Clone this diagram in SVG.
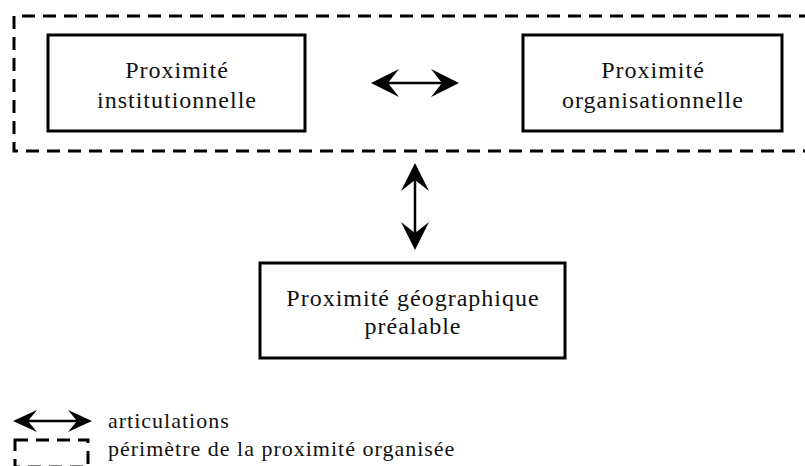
<svg xmlns="http://www.w3.org/2000/svg" width="805" height="466" viewBox="0 0 805 466">
  <style>
    .box { fill: #fff; stroke: #000; stroke-width: 3; }
    .dash { fill: none; stroke: #000; stroke-width: 3; stroke-dasharray: 13 8; }
    .shaft { stroke: #000; stroke-width: 2.5; fill: none; }
  </style>
  <defs>
    <!-- swept arrowhead pointing left, tip at origin -->
    <path id="headL" d="M0 0 L28 -14 L17 0 L28 14 Z"/>
    <path id="headLs" d="M0 0 L24 -11 L15 0 L24 11 Z"/>
  </defs>

  <rect width="805" height="466" fill="#fff"/>

  <!-- perimeter of organised proximity (open on the right) -->
  <path class="dash" d="M812 16 H14 V151 H812"/>

  <g id="institutionnelle">
    <rect class="box" x="48" y="35" width="257" height="96"/>
    <text x="177" y="78" text-anchor="middle" style="font-family: 'Liberation Serif', serif; font-size: 24px; letter-spacing: 1px; fill: #111">Proximité</text>
    <text x="177" y="108" text-anchor="middle" style="font-family: 'Liberation Serif', serif; font-size: 24px; letter-spacing: 1px; fill: #111">institutionnelle</text>
  </g>

  <g id="organisationnelle">
    <rect class="box" x="523" y="35" width="259" height="96"/>
    <text x="653" y="78" text-anchor="middle" style="font-family: 'Liberation Serif', serif; font-size: 24px; letter-spacing: 1px; fill: #111">Proximité</text>
    <text x="653" y="108" text-anchor="middle" style="font-family: 'Liberation Serif', serif; font-size: 24px; letter-spacing: 1px; fill: #111">organisationnelle</text>
  </g>

  <g id="geographique">
    <rect class="box" x="260" y="263" width="305" height="95"/>
    <text x="413" y="306" text-anchor="middle" style="font-family: 'Liberation Serif', serif; font-size: 24px; letter-spacing: 1px; fill: #111">Proximité géographique</text>
    <text x="413" y="334" text-anchor="middle" style="font-family: 'Liberation Serif', serif; font-size: 24px; letter-spacing: 1px; fill: #111">préalable</text>
  </g>

  <g id="connectors">
    <!-- horizontal articulation -->
    <line class="shaft" x1="385" y1="83" x2="445" y2="83"/>
    <use href="#headL" transform="translate(371 83)"/>
    <use href="#headL" transform="translate(459 83) rotate(180)"/>
    <!-- vertical articulation -->
    <line class="shaft" x1="415" y1="178" x2="415" y2="236"/>
    <use href="#headL" transform="translate(415 163) rotate(90)"/>
    <use href="#headL" transform="translate(415 250) rotate(-90)"/>
  </g>

  <g id="legend">
    <line class="shaft" x1="26" y1="421" x2="80" y2="421"/>
    <use href="#headLs" transform="translate(13 421)"/>
    <use href="#headLs" transform="translate(92 421) rotate(180)"/>
    <text x="108" y="428" style="font-family: 'Liberation Serif', serif; font-size: 22px; letter-spacing: 1px; fill: #111">articulations</text>
    <!-- dashed sample box, bottom edge falls on the page border -->
    <rect class="dash" x="15" y="440" width="73" height="27"/>
    <text x="108" y="456" style="font-family: 'Liberation Serif', serif; font-size: 22px; letter-spacing: 1px; fill: #111">périmètre de la proximité organisée</text>
  </g>
</svg>
